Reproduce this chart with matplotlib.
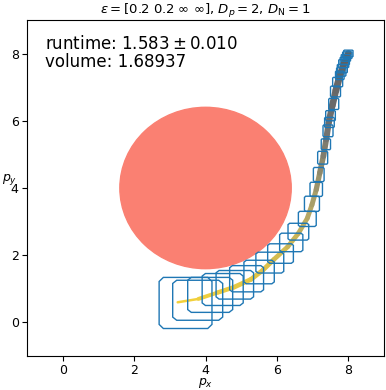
import numpy as np
import matplotlib
matplotlib.use("Agg")
import matplotlib.pyplot as plt
from matplotlib.patches import Circle, Polygon
from matplotlib.collections import LineCollection
from matplotlib.colors import LinearSegmentedColormap

# trajectory of the nominal path
traj_x = [3.22, 3.8, 4.34, 4.8, 5.27, 5.6, 5.91, 6.3, 6.6, 6.85, 6.98,
          7.1, 7.2, 7.3, 7.38, 7.45, 7.55, 7.65, 7.75, 7.88, 8.0]
traj_y = [0.6, 0.7, 0.89, 1.05, 1.28, 1.55, 1.87, 2.25, 2.65, 3.1, 3.5,
          3.95, 4.45, 4.95, 5.45, 5.95, 6.45, 6.9, 7.3, 7.7, 8.0]
traj_lw = [1.8, 2.8, 3.2, 3.4, 3.4, 3.4, 3.4, 3.4, 3.4, 3.5, 3.6,
           3.8, 4, 4.2, 4.4, 4.6, 4.8, 5, 5, 5]

# reachable set boxes: center x, center y, width, height
box_cx = [3.44, 3.78, 4.13, 4.48, 4.82, 5.15, 5.5, 5.8, 6.1, 6.4, 6.6, 6.85,
          6.98, 7.1, 7.17, 7.28, 7.37, 7.43, 7.47, 7.5, 7.59, 7.64, 7.7, 7.76,
          7.8, 7.83, 7.87, 7.9, 7.93, 7.97, 8.0]
box_cy = [0.58, 0.66, 0.82, 0.98, 1.12, 1.3, 1.5, 1.78, 2.05, 2.38, 2.7, 3.08,
          3.53, 3.96, 4.4, 4.9, 5.3, 5.7, 5.95, 6.15, 6.5, 6.87, 7.15, 7.35,
          7.45, 7.55, 7.7, 7.78, 7.87, 7.95, 8.0]
box_w = [1.48, 1.40, 1.26, 1.15, 1.05, 0.95, 0.85, 0.78, 0.72, 0.65, 0.58, 0.5,
         0.42, 0.35, 0.3, 0.28, 0.26, 0.28, 0.27, 0.27, 0.28, 0.28, 0.28, 0.24,
         0.26, 0.28, 0.28, 0.26, 0.26, 0.26, 0.26]
box_h = [1.52, 1.19, 1.04, 0.95, 0.85, 0.78, 0.7, 0.62, 0.58, 0.55, 0.5, 0.45,
         0.45, 0.42, 0.42, 0.38, 0.32, 0.35, 0.3, 0.3, 0.33, 0.32, 0.28, 0.25,
         0.25, 0.25, 0.24, 0.22, 0.2, 0.2, 0.2]

obstacle_center = (4.0, 4.0)
obstacle_radius = 2.4

runtime_mean = 1.583
runtime_std = 0.010
volume = 1.68937


def box_polygon(cx, cy, w, h, cut=0.08):
    dx = w / 2
    dy = h / 2
    cx_ = cut * w
    cy_ = cut * h
    return [(cx - dx + cx_, cy - dy), (cx + dx - cx_, cy - dy),
            (cx + dx, cy - dy + cy_), (cx + dx, cy + dy - cy_),
            (cx + dx - cx_, cy + dy), (cx - dx + cx_, cy + dy),
            (cx - dx, cy + dy - cy_), (cx - dx, cy - dy + cy_)]


fig = plt.figure(figsize=(3.86, 3.90), dpi=100)
ax = fig.add_axes([0.07, 0.087, 0.925, 0.862])

ax.add_patch(Circle(obstacle_center, obstacle_radius, color='salmon', zorder=1))

pts = np.array([traj_x, traj_y]).T.reshape(-1, 1, 2)
segs = np.concatenate([pts[:-1], pts[1:]], axis=1)
cmap = LinearSegmentedColormap.from_list('traj', ['#f2d03a', '#e0c448', '#b0a468', '#707070', '#606060'])
lc = LineCollection(segs, cmap=cmap, linewidths=traj_lw, zorder=2,
                    capstyle='round', joinstyle='round')
lc.set_array(np.linspace(0, 1, len(segs)))
ax.add_collection(lc)

for cx, cy, w, h in zip(box_cx, box_cy, box_w, box_h):
    ax.add_patch(Polygon(box_polygon(cx, cy, w, h), closed=True, fill=False,
                         edgecolor='tab:blue', linewidth=1.0, zorder=3))

ax.text(0.05, 0.955,
        f"runtime: ${runtime_mean:.3f} \\pm {runtime_std:.3f}$\nvolume: {volume}",
        transform=ax.transAxes, fontsize=12, va='top', ha='left', linespacing=1.0)

ax.set_xlim(-1, 9)
ax.set_ylim(-1, 9)
ax.set_xticks([0, 2, 4, 6, 8])
ax.set_yticks([0, 2, 4, 6, 8])
ax.tick_params(labelsize=9, pad=2.5)
ax.set_xlabel("$p_x$", fontsize=9, labelpad=-1)
ax.set_ylabel("$p_y$", fontsize=9, rotation=0, va='center', ha='center')
ax.yaxis.set_label_coords(-0.05, 0.525)
ax.set_title(r"$\varepsilon = [0.2\ 0.2\ \infty\ \infty]$, $D_p = 2$, $D_\mathrm{N} = 1$",
             fontsize=9.5, pad=4)

fig.savefig("out.png", dpi=100)
